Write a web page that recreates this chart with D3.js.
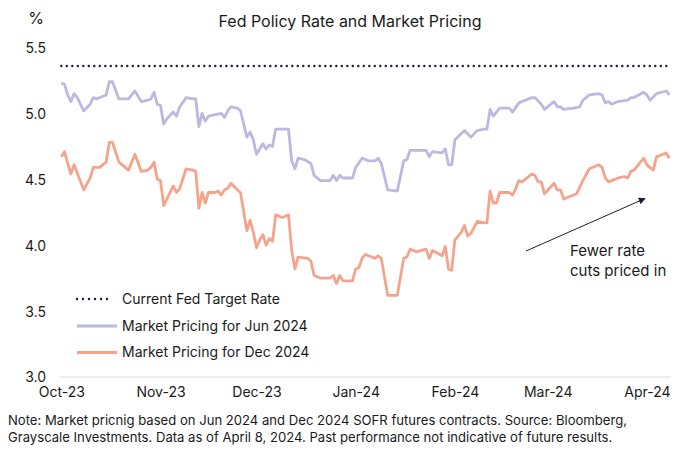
<!DOCTYPE html>
<html>
<head>
<meta charset="utf-8">
<script src="https://cdn.jsdelivr.net/npm/d3@7"></script>
<style>
  html, body { margin: 0; padding: 0; background: #ffffff; }
  svg { display: block; font-family: Inter, "Noto Sans", sans-serif; }
</style>
</head>
<body>
<svg id="chart" width="700" height="453"></svg>
<script>
const title = "Fed Policy Rate and Market Pricing";
const yUnit = "%";
const yTicks = [3.0, 3.5, 4.0, 4.5, 5.0, 5.5];
const xTickDates = ["2023-10-01", "2023-11-01", "2023-12-01", "2024-01-01", "2024-02-01", "2024-03-01", "2024-04-01"];
const xTickLabels = ["Oct-23", "Nov-23", "Dec-23", "Jan-24", "Feb-24", "Mar-24", "Apr-24"];
const seriesNames = ["Current Fed Target Rate", "Market Pricing for Jun 2024", "Market Pricing for Dec 2024"];
const fedTargetRate = 5.36;
const dateRange = ["2023-10-01", "2024-04-08"];

const junDates = ["2023-10-01","2023-10-02","2023-10-03","2023-10-04","2023-10-05","2023-10-06","2023-10-08","2023-10-10","2023-10-11","2023-10-12",
"2023-10-15","2023-10-16","2023-10-17","2023-10-19","2023-10-22","2023-10-24","2023-10-26","2023-10-28","2023-10-29","2023-10-30","2023-10-31",
"2023-11-01","2023-11-02","2023-11-03","2023-11-05","2023-11-06","2023-11-07","2023-11-09","2023-11-11","2023-11-12","2023-11-13","2023-11-14",
"2023-11-15","2023-11-16","2023-11-20","2023-11-21","2023-11-22","2023-11-23","2023-11-25","2023-11-26","2023-11-28","2023-11-29","2023-11-30",
"2023-12-01","2023-12-03","2023-12-04","2023-12-05","2023-12-06","2023-12-07","2023-12-11","2023-12-12","2023-12-13","2023-12-14","2023-12-16",
"2023-12-18","2023-12-19","2023-12-21","2023-12-24","2023-12-25","2023-12-26","2023-12-27","2023-12-28","2023-12-31",
"2024-01-01","2024-01-03","2024-01-05","2024-01-07","2024-01-08","2024-01-09","2024-01-11","2024-01-14","2024-01-16","2024-01-17","2024-01-18",
"2024-01-23","2024-01-24","2024-01-25","2024-01-28","2024-01-29","2024-01-30","2024-01-31",
"2024-02-01","2024-02-04","2024-02-06","2024-02-08","2024-02-10","2024-02-11","2024-02-12","2024-02-13","2024-02-15","2024-02-18","2024-02-19",
"2024-02-21","2024-02-22","2024-02-25","2024-02-26","2024-02-28","2024-02-29",
"2024-03-03","2024-03-04","2024-03-05","2024-03-06","2024-03-09","2024-03-11","2024-03-12","2024-03-14","2024-03-17","2024-03-18","2024-03-19",
"2024-03-20","2024-03-21","2024-03-23","2024-03-26","2024-03-27","2024-03-28","2024-03-31",
"2024-04-01","2024-04-02","2024-04-04","2024-04-07","2024-04-08"];
const junValues = [5.23,5.22,5.14,5.09,5.15,5.12,5.02,5.07,5.12,5.11,
5.14,5.24,5.24,5.11,5.11,5.17,5.09,5.10,5.11,5.16,5.07,
5.06,4.92,4.96,5.01,4.98,5.05,5.12,5.11,5.11,4.90,5.00,
4.94,4.98,5.00,4.97,5.02,5.05,5.04,5.02,4.82,4.86,4.80,
4.69,4.77,4.73,4.76,4.75,4.88,4.88,4.64,4.58,4.66,4.65,
4.62,4.53,4.49,4.49,4.53,4.49,4.53,4.51,4.51,
4.59,4.66,4.64,4.64,4.66,4.62,4.42,4.41,4.64,4.65,4.72,
4.72,4.67,4.71,4.70,4.73,4.61,4.61,
4.80,4.87,4.82,4.87,4.88,4.88,5.03,4.98,5.04,5.04,5.01,
5.08,5.09,5.12,5.12,5.07,5.03,
5.09,5.05,5.05,5.03,5.04,5.05,5.10,5.14,5.15,5.14,5.08,
5.09,5.07,5.09,5.10,5.12,5.12,5.16,
5.14,5.10,5.15,5.17,5.14];

const decDates = ["2023-10-01","2023-10-02","2023-10-03","2023-10-04","2023-10-05","2023-10-08","2023-10-10","2023-10-11","2023-10-13","2023-10-15",
"2023-10-16","2023-10-17","2023-10-19","2023-10-22","2023-10-24","2023-10-26","2023-10-28","2023-10-29","2023-10-30","2023-10-31",
"2023-11-01","2023-11-02","2023-11-04","2023-11-05","2023-11-06","2023-11-07","2023-11-09","2023-11-11","2023-11-12","2023-11-13","2023-11-14",
"2023-11-15","2023-11-16","2023-11-18","2023-11-19","2023-11-20","2023-11-21","2023-11-22","2023-11-23","2023-11-25","2023-11-26","2023-11-28",
"2023-11-29","2023-11-30",
"2023-12-01","2023-12-02","2023-12-03","2023-12-04","2023-12-05","2023-12-06","2023-12-07","2023-12-09","2023-12-11","2023-12-12","2023-12-13",
"2023-12-14","2023-12-17","2023-12-18","2023-12-19","2023-12-21","2023-12-24","2023-12-25","2023-12-26","2023-12-27","2023-12-28","2023-12-31",
"2024-01-01","2024-01-02","2024-01-03","2024-01-04","2024-01-06","2024-01-07","2024-01-08","2024-01-09","2024-01-11","2024-01-14","2024-01-16",
"2024-01-17","2024-01-18","2024-01-20","2024-01-23","2024-01-24","2024-01-25","2024-01-28","2024-01-29","2024-01-30","2024-01-31",
"2024-02-01","2024-02-03","2024-02-04","2024-02-05","2024-02-06","2024-02-08","2024-02-10","2024-02-11","2024-02-12","2024-02-13","2024-02-14",
"2024-02-15","2024-02-18","2024-02-19","2024-02-20","2024-02-21","2024-02-22","2024-02-25","2024-02-26","2024-02-27","2024-02-28","2024-02-29",
"2024-03-03","2024-03-04","2024-03-05","2024-03-06","2024-03-10","2024-03-12","2024-03-14","2024-03-17","2024-03-18","2024-03-19","2024-03-20",
"2024-03-21","2024-03-23","2024-03-25","2024-03-26","2024-03-27","2024-03-28","2024-03-31",
"2024-04-01","2024-04-03","2024-04-04","2024-04-07","2024-04-08"];
const decValues = [4.67,4.71,4.62,4.54,4.61,4.42,4.51,4.59,4.59,4.63,
4.78,4.78,4.63,4.57,4.69,4.56,4.57,4.59,4.63,4.50,
4.49,4.30,4.40,4.45,4.40,4.43,4.58,4.57,4.56,4.28,4.40,
4.32,4.40,4.40,4.41,4.38,4.42,4.43,4.47,4.42,4.40,4.11,
4.19,4.10,
3.98,4.04,4.08,4.00,4.05,4.03,4.23,4.21,4.23,3.96,3.82,
3.91,3.90,3.88,3.77,3.75,3.75,3.77,3.71,3.77,3.73,3.73,
3.82,3.83,3.90,3.93,3.91,3.90,3.92,3.90,3.62,3.62,3.90,
3.91,3.97,3.95,3.97,3.90,3.96,3.92,3.99,3.82,3.81,
4.04,4.10,4.15,4.07,4.09,4.18,4.17,4.17,4.41,4.32,4.32,
4.40,4.40,4.38,4.43,4.49,4.48,4.54,4.53,4.48,4.48,4.39,
4.47,4.42,4.42,4.35,4.39,4.49,4.58,4.61,4.59,4.51,4.48,
4.49,4.51,4.52,4.51,4.56,4.57,4.66,
4.61,4.57,4.67,4.70,4.66];

const annotationLines = ["Fewer rate", "cuts priced in"];
const footnoteLines = [
  "Note: Market pricnig based on Jun 2024 and Dec 2024 SOFR futures contracts. Source: Bloomberg,",
  "Grayscale Investments. Data as of April 8, 2024. Past performance not indicative of future results."
];

const colors = { fed: "#1d1b38", jun: "#bcb9e0", dec: "#f5a48b", text: "#1a1a1a", base: "#dcdcdc" };

const parse = d3.utcParse("%Y-%m-%d");
const svg = d3.select("#chart");

const x = d3.scaleUtc().domain(dateRange.map(parse)).range([61.3, 669.3]);
const y = d3.scaleLinear().domain([3.0, 5.5]).range([377, 47.5]);

// title and unit
svg.append("text").attr("x", 350).attr("y", 27).attr("text-anchor", "middle")
  .attr("font-size", 16).attr("fill", colors.text).text(title);
svg.append("text").attr("x", 36).attr("y", 24).attr("text-anchor", "middle")
  .attr("font-size", 16).attr("fill", colors.text).text(yUnit);

// baseline
svg.append("line").attr("x1", 60).attr("x2", 671).attr("y1", y(3.0)).attr("y2", y(3.0))
  .attr("stroke", colors.base).attr("stroke-width", 1);

// y axis
const yAxis = svg.append("g").attr("transform", "translate(46,0)")
  .call(d3.axisLeft(y).tickValues(yTicks).tickFormat(d3.format(".1f")).tickSize(0).tickPadding(0));
yAxis.select(".domain").remove();
yAxis.selectAll("text").attr("font-size", 14).attr("fill", colors.text)
  .attr("font-family", "Inter, 'Noto Sans', sans-serif").attr("dy", "0.35em");

// x axis
const xAxis = svg.append("g").attr("transform", `translate(0,${y(3.0)})`)
  .call(d3.axisBottom(x).tickValues(xTickDates.map(parse)).tickFormat((d, i) => xTickLabels[i]).tickSize(0).tickPadding(10));
xAxis.select(".domain").remove();
xAxis.selectAll("text").attr("font-size", 14).attr("fill", colors.text)
  .attr("font-family", "Inter, 'Noto Sans', sans-serif");

// fed target dotted line
svg.append("line").attr("x1", x(parse(dateRange[0]))).attr("x2", x(parse(dateRange[1])))
  .attr("y1", y(fedTargetRate)).attr("y2", y(fedTargetRate))
  .attr("stroke", colors.fed).attr("stroke-width", 2.4).attr("stroke-linecap", "round")
  .attr("stroke-dasharray", "0 5.5");

const line = d3.line().x(d => x(d[0])).y(d => y(d[1]));
const junData = junDates.map((d, i) => [parse(d), junValues[i]]);
const decData = decDates.map((d, i) => [parse(d), decValues[i]]);

svg.append("path").datum(junData).attr("d", line).attr("fill", "none")
  .attr("stroke", colors.jun).attr("stroke-width", 2.8).attr("stroke-linejoin", "round");
svg.append("path").datum(decData).attr("d", line).attr("fill", "none")
  .attr("stroke", colors.dec).attr("stroke-width", 2.8).attr("stroke-linejoin", "round");

// legend
const legend = svg.append("g");
const legendRows = [
  { name: seriesNames[0], color: colors.fed, dotted: true, y: 299 },
  { name: seriesNames[1], color: colors.jun, dotted: false, y: 326 },
  { name: seriesNames[2], color: colors.dec, dotted: false, y: 352.5 }
];
legendRows.forEach(r => {
  const l = legend.append("line").attr("x1", 77).attr("x2", r.dotted ? 113 : 117)
    .attr("y1", r.y).attr("y2", r.y).attr("stroke", r.color);
  if (r.dotted) {
    l.attr("stroke-width", 2.4).attr("stroke-linecap", "round").attr("stroke-dasharray", "0 6");
  } else {
    l.attr("stroke-width", 3);
  }
  legend.append("text").attr("x", 122).attr("y", r.y).attr("dy", "0.35em")
    .attr("font-size", 14).attr("fill", colors.text).text(r.name);
});

// annotation arrow
const defs = svg.append("defs");
defs.append("marker").attr("id", "arrowhead").attr("viewBox", "0 0 10 10")
  .attr("refX", 9).attr("refY", 5).attr("markerWidth", 7).attr("markerHeight", 7)
  .attr("orient", "auto").attr("markerUnits", "userSpaceOnUse")
  .append("path").attr("d", "M0,0 L10,5 L0,10 Z").attr("fill", colors.fed);
svg.append("line").attr("x1", 526).attr("y1", 251).attr("x2", 645).attr("y2", 198.5)
  .attr("stroke", colors.fed).attr("stroke-width", 1).attr("marker-end", "url(#arrowhead)");
annotationLines.forEach((t, i) => {
  svg.append("text").attr("x", 570).attr("y", 256 + i * 20)
    .attr("font-size", 15).attr("fill", colors.text).text(t);
});

// footnote
footnoteLines.forEach((t, i) => {
  svg.append("text").attr("x", 8).attr("y", 425 + i * 17)
    .attr("font-size", 13.1).attr("fill", colors.text).text(t);
});
</script>
</body>
</html>
